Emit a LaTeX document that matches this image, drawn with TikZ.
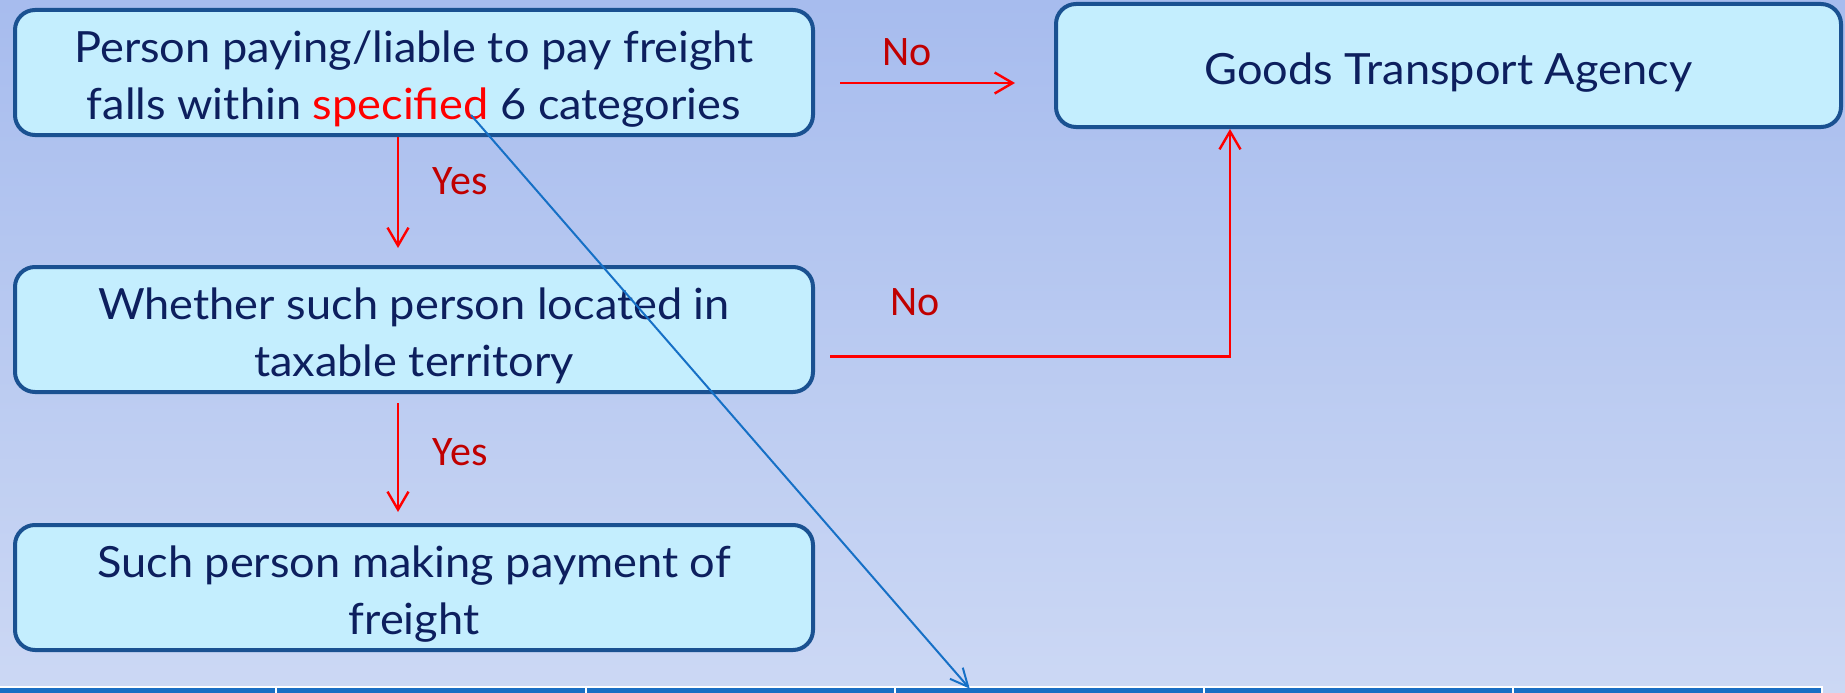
\documentclass[tikz,border=0pt]{standalone}
\usepackage{fontspec}
\usetikzlibrary{arrows.meta,calc}
\newfontfamily\boxfont[FakeStretch=1.05]{Lato}
\newfontfamily\labfont{Carlito}
\definecolor{bgtop}{HTML}{A7BCEE}
\definecolor{bgbot}{HTML}{CCD8F4}
\definecolor{boxfill}{HTML}{C4EEFE}
\definecolor{boxline}{HTML}{1A5191}
\definecolor{navy}{HTML}{0D1F5E}
\definecolor{arrred}{HTML}{FF0000}
\definecolor{labred}{HTML}{C00000}
\definecolor{linkblue}{HTML}{1670C6}
\definecolor{stripblue}{HTML}{1A6FC4}
\newcommand{\lowtext}[2]{\raisebox{-#1}[\height][\depth]{\begin{tabular}{@{}c@{}}#2\end{tabular}}}
\tikzset{
  flowbox/.style={draw=boxline, line width=4pt, fill=boxfill, rounded corners=20pt,
    minimum width=798pt, minimum height=125pt, align=center, text=navy,
    font=\boxfont\fontsize{43}{57}\selectfont, inner sep=0pt},
  redarr/.style={draw=arrred, line width=2.4pt, -{Straight Barb[length=18pt,width=21pt,line width=2.4pt]}},
  bluearr/.style={draw=linkblue, line width=2pt, -{Straight Barb[length=18pt,width=17pt,line width=2pt]}},
  lab/.style={text=labred, font=\labfont\fontsize{42}{50}\selectfont, inner sep=0pt},
  cell/.style={fill=stripblue, draw=none, inner sep=0pt, minimum height=5pt, anchor=south west}
}
\begin{document}
\begin{tikzpicture}[x=1pt,y=-1pt]
\useasboundingbox (0,0) rectangle (1845,693);
\shade[top color=bgtop, bottom color=bgbot] (0,0) rectangle (1845,693);
% bottom strip
\fill[white] (0,686) rectangle (1823,693);
\node[cell, minimum width=275pt] (c1) at (0,693) {};
\node[cell, minimum width=308pt] (c2) at (277,693) {};
\node[cell, minimum width=307pt] (c3) at (587,693) {};
\node[cell, minimum width=307pt] (c4) at (896,693) {};
\node[cell, minimum width=307pt] (c5) at (1205,693) {};
\node[cell, minimum width=307pt] (c6) at (1514,693) {};
% boxes
\node[flowbox] (b1) at (414,72.5) {\lowtext{7pt}{Person paying/liable to pay freight\\falls within \textcolor{arrred}{specified} 6 categories}};
\node[flowbox, minimum width=785pt, minimum height=123pt] (gta) at (1448.5,65.5) {\lowtext{8pt}{Goods Transport Agency}};
\node[flowbox] (b2) at (414,329.5) {\lowtext{7pt}{Whether such person located in\\taxable territory}};
\node[flowbox] (b3) at (414,587.5) {\lowtext{7pt}{Such person making payment of\\freight}};
% connectors
\coordinate (n1s) at ([xshift=25pt,yshift=-10.5pt]b1.east);
\draw[redarr] (n1s) -- ++(175,0);
\node[lab] (no1) at (907,52) {No};
\draw[redarr] ([xshift=-16pt]b1.south) -- ([xshift=-16pt,yshift=17pt]b2.north);
\node[lab] (yes1) at (460,181) {Yes};
\draw[redarr] ([xshift=-16pt,yshift=-9pt]b2.south) -- ([xshift=-16pt,yshift=11pt]b3.north);
\node[lab] (yes2) at (460,452) {Yes};
\coordinate (n2s) at ([xshift=15pt,yshift=-27pt]b2.east);
\draw[redarr] (n2s) -| ([xshift=-218.5pt]gta.south);
\node[lab] (no2) at (915,302) {No};
\coordinate (spec) at (471,115);
\draw[bluearr] (spec) -- ([xshift=-80pt,yshift=-1pt]c4.north);
\end{tikzpicture}
\end{document}
